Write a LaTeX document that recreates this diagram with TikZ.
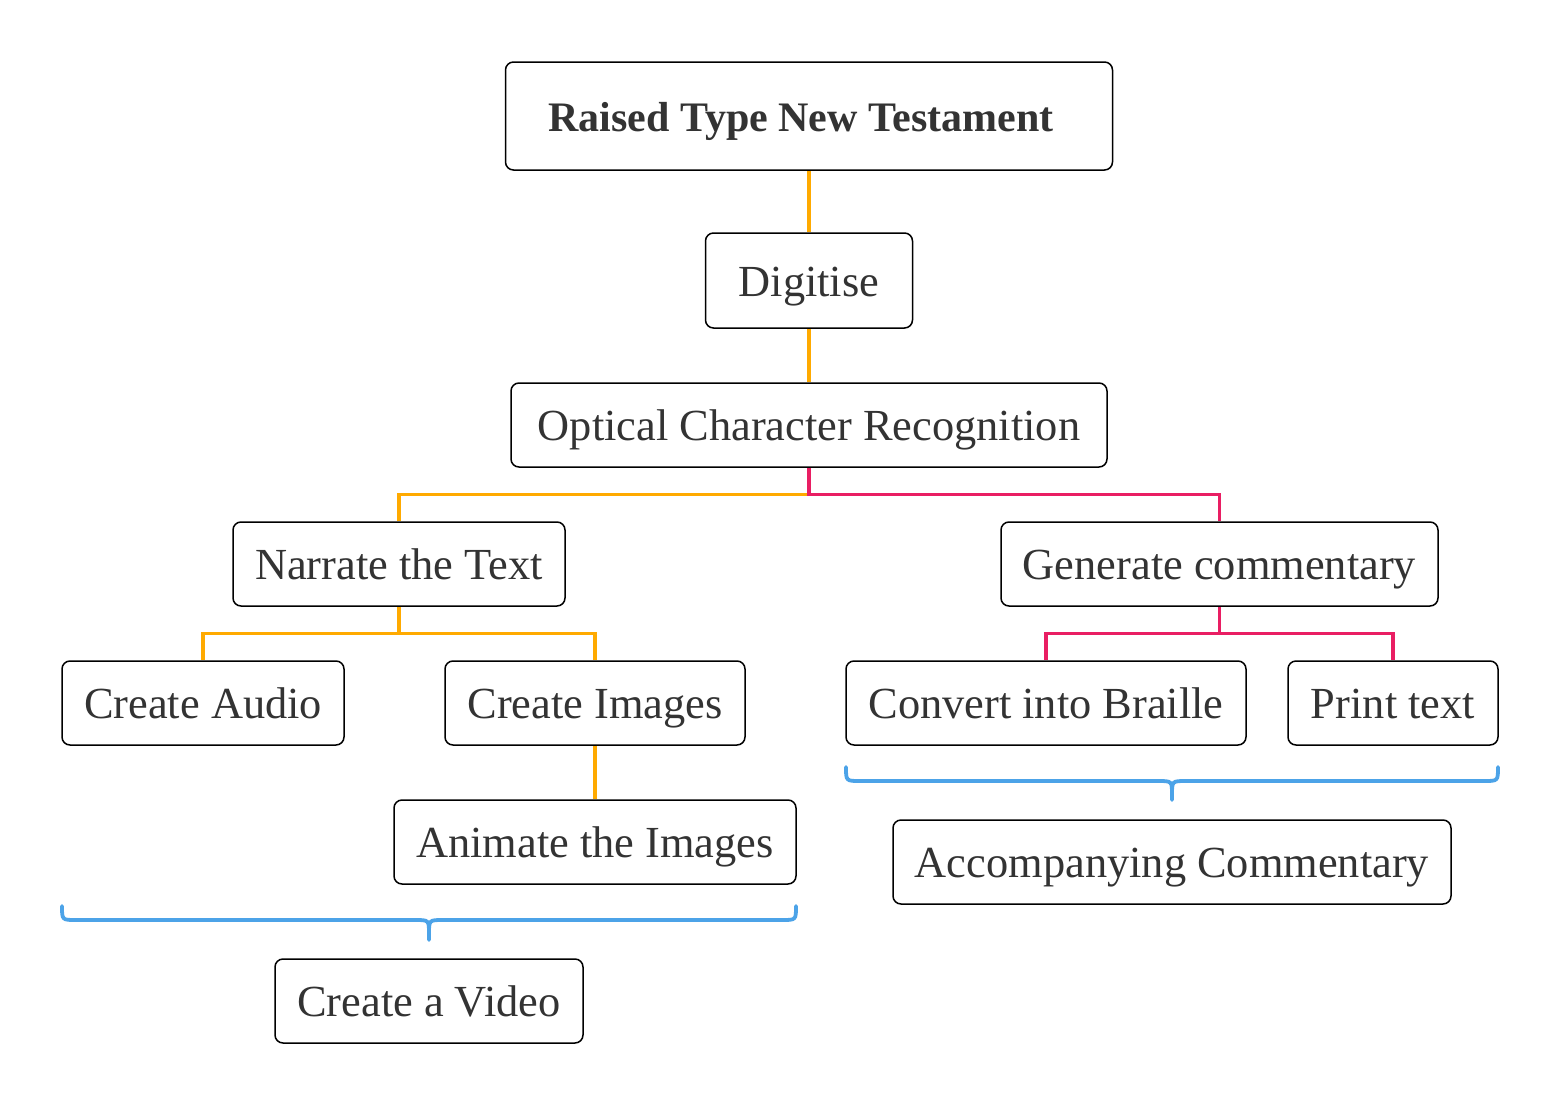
\documentclass[tikz,border=0pt]{standalone}
\usepackage{fontspec}
\setmainfont{Liberation Serif}
\definecolor{txt}{HTML}{333333}
\definecolor{lineor}{HTML}{FFAA00}
\definecolor{linepk}{HTML}{E91E63}
\definecolor{linebl}{HTML}{4CA3E8}
\tikzset{
  box/.style={draw=black, line width=0.75pt, rounded corners=4pt, fill=white,
    text=txt, inner sep=0pt, minimum height=42pt, text height=20pt, text depth=4.5pt,
    font=\fontsize{22.2}{26}\selectfont},
  orln/.style={draw=lineor, line width=1.6pt},
  pkln/.style={draw=linepk, line width=1.6pt},
  brln/.style={draw=linebl, line width=1.9pt, line cap=round},
}
\begin{document}
\begin{tikzpicture}[x=0.5pt, y=-0.5pt]
\useasboundingbox (0,0) rectangle (1560,1104);
% nodes
\node[box, minimum width=303.5pt, minimum height=54pt, font=\fontsize{21}{25}\selectfont\bfseries] (root) at (809,116) {Raised Type New Testament\hspace*{8pt}};
\node[box, minimum width=103.5pt, minimum height=47.5pt] (dig) at (809,280.5) {Digitise};
\node[box, minimum width=298pt] (ocr) at (809,425) {Optical Character Recognition};
\node[box, minimum width=166pt] (nar) at (399,564) {Narrate the Text};
\node[box, minimum width=218.5pt] (gen) at (1219.5,564) {Generate commentary};
\node[box, minimum width=141pt] (aud) at (203,703) {Create Audio};
\node[box, minimum width=150pt] (img) at (595,703) {Create Images};
\node[box, minimum width=200pt] (bra) at (1046,703) {Convert into Braille};
\node[box, minimum width=105pt] (prt) at (1393,703) {Print text};
\node[box, minimum width=201pt] (ani) at (595,842) {Animate the Images};
\node[box, minimum width=279pt] (acc) at (1172,862) {Accompanying Commentary};
\node[box, minimum width=154pt] (vid) at (429,1001) {Create a Video};
% connectors
\draw[orln] (root.south) -- (dig.north);
\draw[orln] (dig.south) -- (ocr.north);
\draw[orln] (ocr.south) -- ++(0,27) -| (nar.north);
\draw[pkln] (ocr.south) -- ++(0,27) -| (gen.north);
\draw[orln] (nar.south) -- ++(0,27) -| (aud.north);
\draw[orln] (nar.south) -- ++(0,27) -| (img.north);
\draw[orln] (img.south) -- (ani.north);
\draw[pkln] (gen.south) -- ++(0,27) -| (bra.north);
\draw[pkln] (gen.south) -- ++(0,27) -| (prt.north);
% braces
\draw[brln] (62,906) .. controls (62,920) .. (76,920) -- (415,920) .. controls (429,920) .. (429,934) -- (429,940);
\draw[brln] (796,906) .. controls (796,920) .. (782,920) -- (443,920) .. controls (429,920) .. (429,934);
\draw[brln] (846,767) .. controls (846,781) .. (860,781) -- (1158,781) .. controls (1172,781) .. (1172,795) -- (1172,800);
\draw[brln] (1498,767) .. controls (1498,781) .. (1484,781) -- (1186,781) .. controls (1172,781) .. (1172,795);
\end{tikzpicture}
\end{document}
